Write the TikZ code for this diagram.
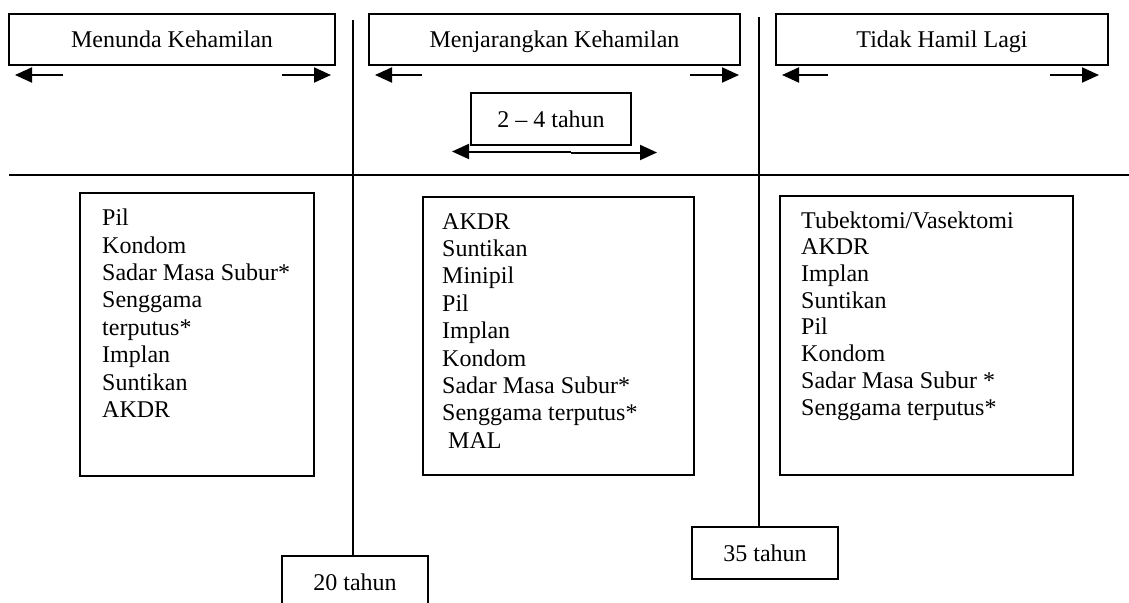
\documentclass[tikz,border=0pt]{standalone}
\usepackage{fontspec}
\setmainfont{Liberation Serif}
\usetikzlibrary{arrows.meta}
\begin{document}
\begin{tikzpicture}[x=1pt,y=-1pt,
  txt/.style={font=\fontsize{24}{27.4}\selectfont},
  hbox/.style={draw,line width=1.6pt,inner sep=0pt,txt,minimum height=51pt,text height=19pt,text depth=2pt},
  listbox/.style={draw,line width=1.6pt,inner sep=0pt,anchor=north west},
  listtxt/.style={txt,align=left,anchor=base west,inner sep=0pt},
  arr/.style={line width=2pt,-{Triangle[length=17pt,width=15pt]}},
  rule/.style={line width=2pt}]
\useasboundingbox (0,0) rectangle (1129,602);
\clip (0,0) rectangle (1129,602);
\fill[white] (0,0) rectangle (1129,602);
% header boxes
\node[hbox,minimum width=326pt] (b1) at (172,39.5) {Menunda Kehamilan};
\node[hbox,minimum width=371pt] (b2) at (554.5,39.5) {Menjarangkan Kehamilan};
\node[hbox,minimum width=332pt] (b3) at (942,39.5) {Tidak Hamil Lagi};
% arrows under header boxes
\coordinate (a1l) at (63,75); \coordinate (a1lt) at (15,75);
\coordinate (a1r) at (282,75); \coordinate (a1rt) at (331,75);
\coordinate (a2l) at (422,75); \coordinate (a2lt) at (375,75);
\coordinate (a2r) at (690,75); \coordinate (a2rt) at (739,75);
\coordinate (a3l) at (828,75); \coordinate (a3lt) at (782,75);
\coordinate (a3r) at (1050,75); \coordinate (a3rt) at (1099,75);
\draw[arr] (a1l) -- (a1lt);
\draw[arr] (a1r) -- (a1rt);
\draw[arr] (a2l) -- (a2lt);
\draw[arr] (a2r) -- (a2rt);
\draw[arr] (a3l) -- (a3lt);
\draw[arr] (a3r) -- (a3rt);
% 2-4 tahun
\node[hbox,minimum width=160pt,minimum height=52pt] (span) at (551,119) {2 -- 4 tahun};
\coordinate (dm1) at (571,151.5); \coordinate (dl) at (452,151.5);
\coordinate (dm2) at (571,152.5); \coordinate (dr) at (657,152.5);
\draw[arr] (dm1) -- (dl);
\draw[arr] (dm2) -- (dr);
% horizontal rule
\coordinate (h1) at (9,175); \coordinate (h2) at (1129,175);
\draw[rule] (h1) -- (h2);
% age boxes
\node[hbox,minimum width=146pt,minimum height=52pt] (y20) at (355,582) {20 tahun};
\node[hbox,minimum width=146pt,minimum height=52pt] (y35) at (765,553) {35 tahun};
% vertical rules
\coordinate (v1) at (353,20); \coordinate (v2) at (759,17);
\draw[rule] (v1) -- (v1 |- y20.north);
\draw[rule] (v2) -- (v2 |- y35.north);
% list boxes
\node[listbox,minimum width=234pt,minimum height=283pt] (la) at (79,192) {};
\node[listbox,minimum width=271pt,minimum height=278pt] (lb) at (422,196) {};
\node[listbox,minimum width=293pt,minimum height=279pt] (lc) at (779,195) {};
\node[listtxt] (ta) at (102,417.5) {Pil\\Kondom\\Sadar Masa Subur*\\Senggama\\terputus*\\Implan\\Suntikan\\AKDR};
\node[listtxt] (tb) at (442,448.2) {AKDR\\Suntikan\\Minipil\\Pil\\Implan\\Kondom\\Sadar Masa Subur*\\Senggama terputus*\\\ MAL};
\node[listtxt,font=\fontsize{24}{26.7}\selectfont] (tc) at (801,415) {Tubektomi/Vasektomi\\AKDR\\Implan\\Suntikan\\Pil\\Kondom\\Sadar Masa Subur *\\Senggama terputus*};
\end{tikzpicture}
\end{document}
